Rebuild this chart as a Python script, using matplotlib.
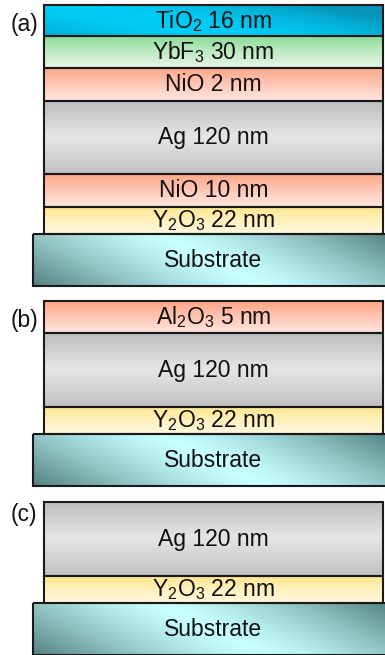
import numpy as np
import matplotlib.pyplot as plt
from matplotlib.patches import Rectangle
from matplotlib.colors import to_rgb

plt.rcParams['font.family'] = ['Liberation Sans', 'DejaVu Sans']
plt.rcParams['mathtext.fontset'] = 'custom'
plt.rcParams['mathtext.rm'] = 'Liberation Sans'
plt.rcParams['mathtext.default'] = 'regular'

# layer stacks, top to bottom
panel_tags = ['(a)', '(b)', '(c)']
materials_a = ['TiO2', 'YbF3', 'NiO', 'Ag', 'NiO', 'Y2O3', 'Substrate']
thick_a = [16, 30, 2, 120, 10, 22, None]
materials_b = ['Al2O3', 'Ag', 'Y2O3', 'Substrate']
thick_b = [5, 120, 22, None]
materials_c = ['Ag', 'Y2O3', 'Substrate']
thick_c = [120, 22, None]

pretty = {'TiO2': 'TiO$_2$', 'YbF3': 'YbF$_3$', 'NiO': 'NiO', 'Ag': 'Ag',
          'Y2O3': 'Y$_2$O$_3$', 'Al2O3': 'Al$_2$O$_3$', 'Substrate': 'Substrate'}

# drawing layout (pixels), not proportional to thickness
row_h = {'TiO2': 31, 'YbF3': 32, 'NiO': 32.5, 'Al2O3': 32, 'Ag': 73.5,
         'Y2O3': 27.5, 'Substrate': 51.5}
panel_top = [5, 301, 502]
tag_y = [24, 320, 514]
x0, x1 = 44, 383
sx0, sx1 = 33, 387


def vgrad(c_top, c_mid, c_bot, n=64):
    t = np.linspace(0, 1, n)[:, None]
    a, m, b = (np.array(to_rgb(c)) for c in (c_top, c_mid, c_bot))
    top = a + (m - a) * np.clip(t * 2, 0, 1)[..., None]
    bot = m + (b - m) * np.clip(t * 2 - 1, 0, 1)[..., None]
    img = np.where(t[..., None] < 0.5, top, bot)
    return np.repeat(img, 2, axis=1)


def dgrad(c_light, c_dark, k=0.3, n=64, skew=0.0, p=1.4):
    s = np.linspace(0, 1, 200)[None, :]
    r = np.linspace(0, 1, n)[:, None]
    t = (s - 0.5 - skew) + k * (0.5 - r)
    w = np.clip(np.abs(t) / (0.5 + k * 0.5), 0, 1) ** p
    lo, hi = np.array(to_rgb(c_light)), np.array(to_rgb(c_dark))
    return lo + (hi - lo) * w[..., None]


fills = {
    'TiO2': lambda: dgrad('#00cdf6', '#0894b8', k=0.5, skew=-0.2, p=1.8),
    'YbF3': lambda: vgrad('#8cda98', '#bfeac4', '#e6f7e6'),
    'NiO': lambda: vgrad('#ffa585', '#ffc6b4', '#ffe6de'),
    'Al2O3': lambda: vgrad('#ffa585', '#ffc6b4', '#ffe6de'),
    'Ag': lambda: vgrad('#bdbdbd', '#e6e6e6', '#c2c2c2'),
    'Y2O3': lambda: vgrad('#ffe68a', '#fff0bc', '#fff9e0'),
    'Substrate': lambda: dgrad('#c8ffff', '#558383', k=0.3, p=1.3),
}

fig = plt.figure(figsize=(3.85, 6.55), dpi=100)
ax = fig.add_axes([0, 0, 1, 1])
ax.set_xlim(0, 385)
ax.set_ylim(655, 0)
ax.axis('off')

stacks = [(materials_a, thick_a), (materials_b, thick_b), (materials_c, thick_c)]
for tag, top, ty, (mats, thk) in zip(panel_tags, panel_top, tag_y, stacks):
    y = top
    for m, t in zip(mats, thk):
        h = row_h[m]
        if m == 'Substrate':
            l, r = sx0, sx1
            label = 'Substrate'
        else:
            l, r = x0, x1
            label = f'{pretty[m]} {t} nm'
        ax.imshow(fills[m](), extent=(l, r, y + h, y), aspect='auto',
                  interpolation='bilinear', zorder=1)
        ax.add_patch(Rectangle((l, y), r - l, h, fill=False, ec='#1a1a1a',
                               lw=1.5, zorder=2))
        ax.text((x0 + x1) / 2, y + h / 2 + 0.5, label, ha='center', va='center',
                fontsize=16.5, color='#111111', zorder=3)
        y += h
    ax.text(24, ty, tag, ha='center', va='center', fontsize=16.5, color='#111111')

ax.set_xlim(0, 385)
ax.set_ylim(655, 0)
fig.savefig('out.png', dpi=100)
